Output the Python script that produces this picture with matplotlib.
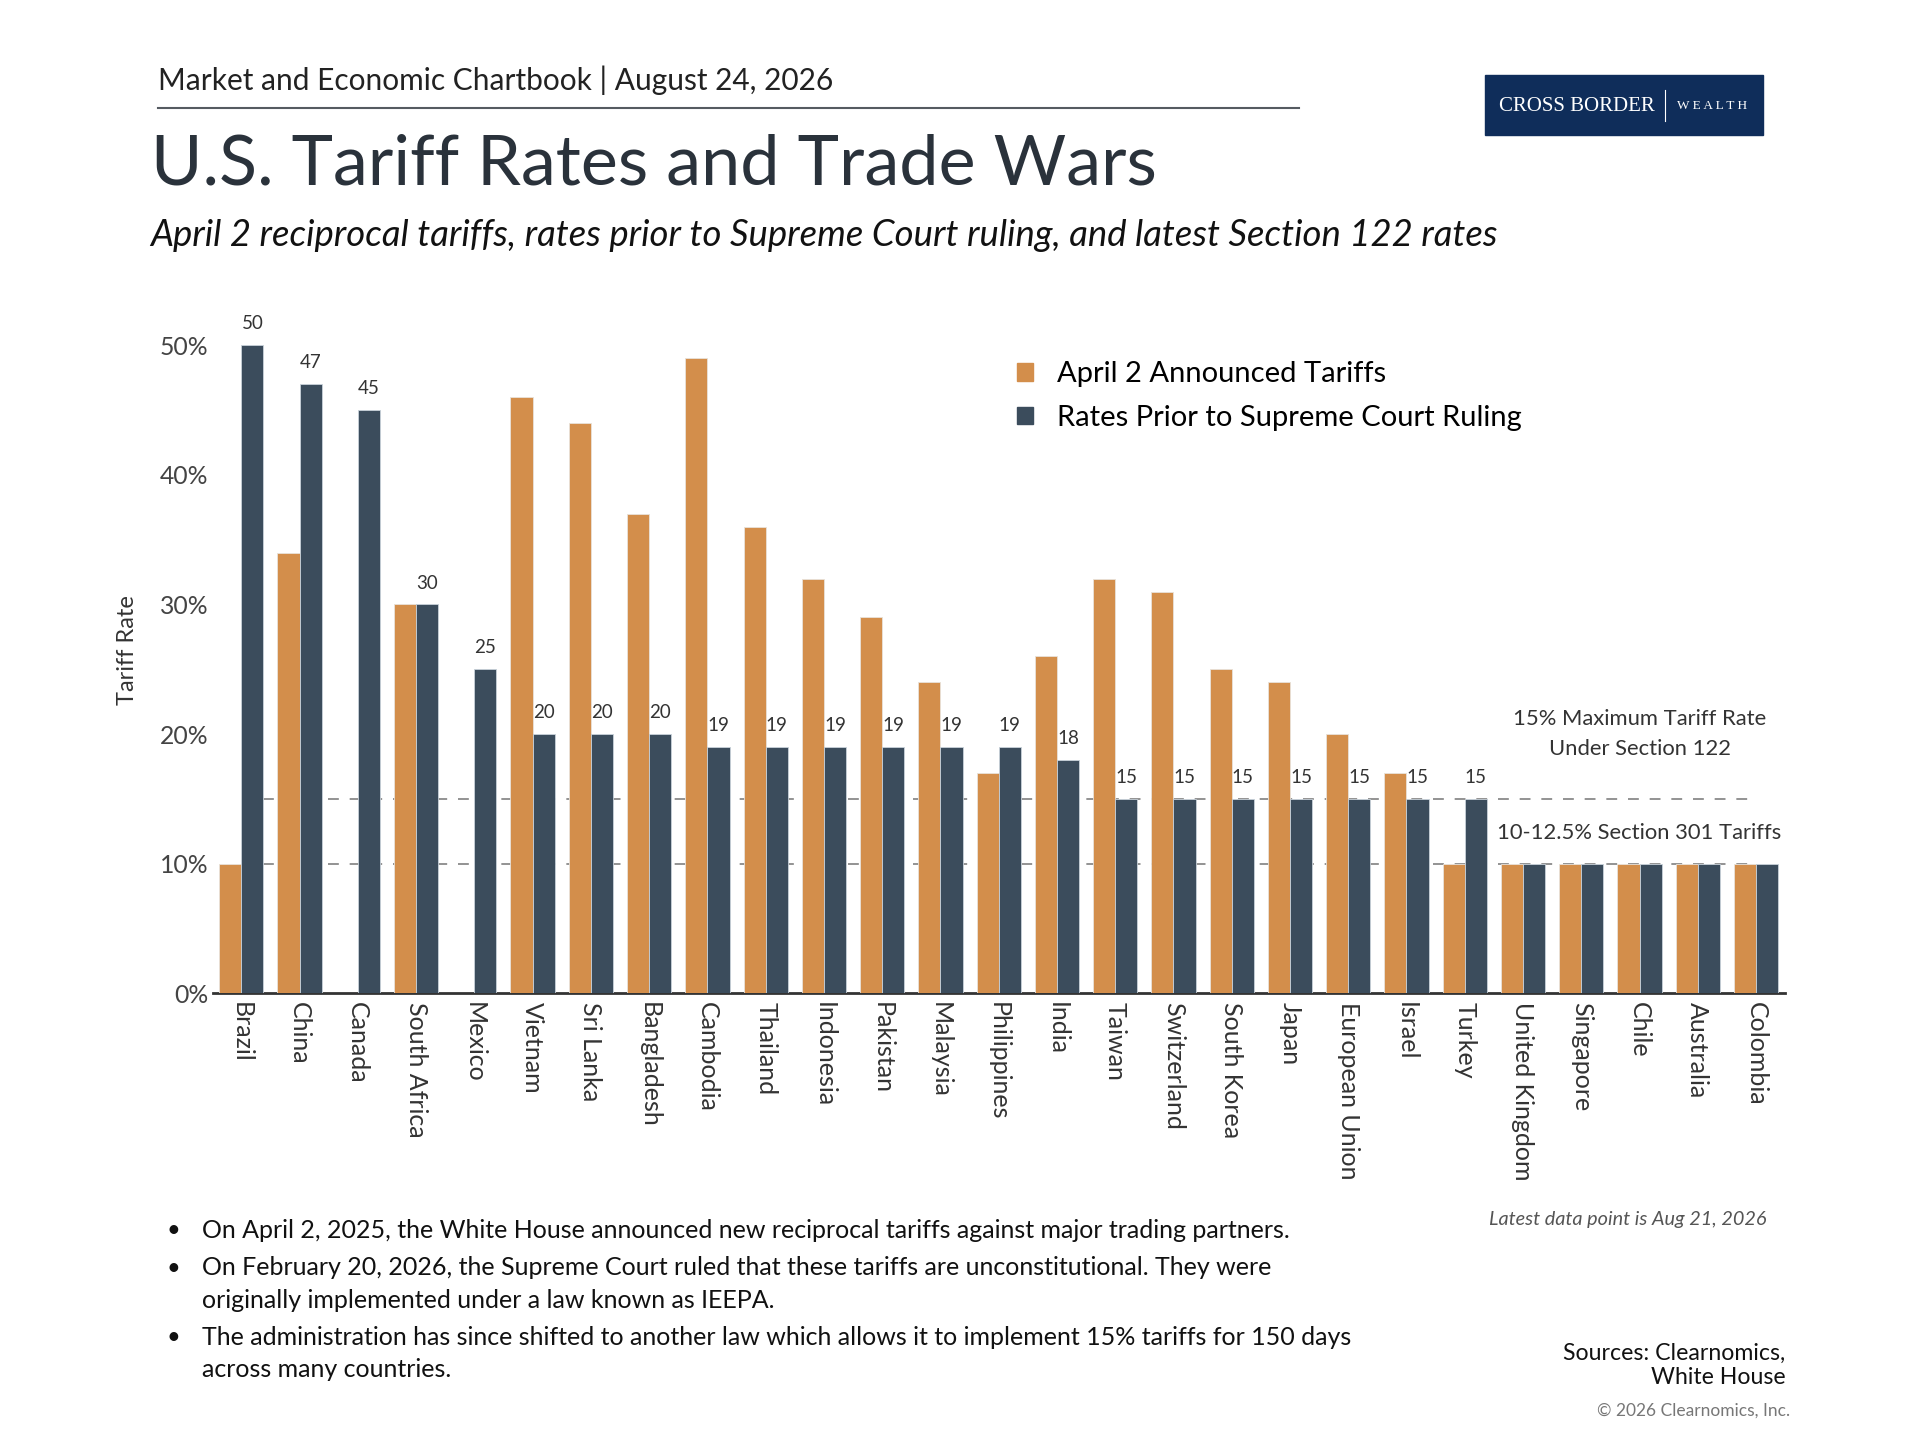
import matplotlib
matplotlib.use('Agg')
import matplotlib.pyplot as plt
from matplotlib.patches import Rectangle, Patch

plt.rcParams['font.family'] = ['Lato', 'DejaVu Sans']

countries = ['Brazil', 'China', 'Canada', 'South Africa', 'Mexico', 'Vietnam', 'Sri Lanka',
             'Bangladesh', 'Cambodia', 'Thailand', 'Indonesia', 'Pakistan', 'Malaysia',
             'Philippines', 'India', 'Taiwan', 'Switzerland', 'South Korea', 'Japan',
             'European Union', 'Israel', 'Turkey', 'United Kingdom', 'Singapore', 'Chile',
             'Australia', 'Colombia']
april2 = [10, 34, 0, 30, 0, 46, 44, 37, 49, 36, 32, 29, 24, 17, 26, 32, 31, 25, 24, 20,
          17, 10, 10, 10, 10, 10, 10]
prior_ruling = [50, 47, 45, 30, 25, 20, 20, 20, 19, 19, 19, 19, 19, 19, 18, 15, 15, 15, 15,
                15, 15, 15, 10, 10, 10, 10, 10]
n_labeled = 22  # value labels shown for Brazil..Turkey

yticks = [0, 10, 20, 30, 40, 50]
section122 = 15
section301 = 10

ORANGE = '#D38E4B'
DARK = '#3B4C5C'
TXT = '#333333'

W, H = 1552.0, 1164.0  # reference coordinates (scaled view)


def fx(x):
    return x / W


def fy(y):
    return 1 - y / H


fig = plt.figure(figsize=(19.2, 14.4), dpi=100)

# header
fig.text(fx(128), fy(65), 'Market and Economic Chartbook | August 24, 2026', fontsize=21.5,
         color='#222222', va='center', ha='left')
fig.add_artist(plt.Line2D([fx(128), fx(1050)], [fy(87), fy(87)], color='#555b61', lw=1.5))
fig.text(fx(122), fy(133), 'U.S. Tariff Rates and Trade Wars', fontsize=50.5, color='#2a323b',
         va='center', ha='left')
fig.text(fx(121), fy(190), 'April 2 reciprocal tariffs, rates prior to Supreme Court ruling, '
         'and latest Section 122 rates', fontsize=26.3, style='italic', color='#111111',
         va='center', ha='left')

# logo
fig.add_artist(Rectangle((fx(1200), fy(109)), fx(1425) - fx(1200), fy(61) - fy(109),
                         transform=fig.transFigure, color='#0f2d5a'))
fig.text(fx(1275), fy(86), 'CROSS BORDER', fontsize=15, family='Liberation Serif',
         color='white', va='center', ha='center')
fig.add_artist(plt.Line2D([fx(1346), fx(1346)], [fy(73), fy(98)], color='white', lw=0.8))
fig.text(fx(1384), fy(86), 'W E A L T H', fontsize=9.5, family='Liberation Serif',
         color='white', va='center', ha='center')

# chart
ax = fig.add_axes([fx(172), fy(803), fx(1443) - fx(172), fy(247.6) - fy(803)])
x = list(range(len(countries)))
bw = 0.38
ax.bar([i - bw / 2 for i in x], april2, width=bw, color=ORANGE, edgecolor='#e8e2da',
       linewidth=0.6, label='April 2 Announced Tariffs', zorder=3)
bars = ax.bar([i + bw / 2 for i in x], prior_ruling, width=bw, color=DARK, edgecolor='#c9d2da',
              linewidth=0.6, label='Rates Prior to Supreme Court Ruling', zorder=3)
for i in range(n_labeled):
    ax.text(i + bw / 2, prior_ruling[i] + 1.0, str(prior_ruling[i]), ha='center', va='bottom',
            fontsize=13.5, color=TXT, zorder=4)

ax.hlines(section122, bw, len(countries) - 1, colors='#8a8a8a', linestyles=(0, (6, 6)),
          lw=1.3, zorder=2)
ax.hlines(section301, bw, len(countries) - 1, colors='#8a8a8a', linestyles=(0, (6, 6)),
          lw=1.3, zorder=2)
ax.text(24.0, 20.0, '15% Maximum Tariff Rate\nUnder Section 122', ha='center', va='center',
        fontsize=15.8, color=TXT, linespacing=1.6)
ax.text(24.0, 12.4, '10-12.5% Section 301 Tariffs', ha='center', va='center', fontsize=15.8,
        color=TXT)

ax.set_xlim(-0.49, 26.5)
ax.set_ylim(0, 53)
ax.set_yticks(yticks)
ax.set_yticklabels([f'{t}%' for t in yticks], fontsize=17.8, color='#444444')
ax.set_xticks(x)
ax.set_xticklabels(countries, rotation=270, fontsize=18, color=TXT, va='top', ha='center')
ax.tick_params(axis='both', length=0, pad=3)
ax.tick_params(axis='x', pad=6)
for s in ['top', 'right', 'left']:
    ax.spines[s].set_visible(False)
ax.spines['bottom'].set_color('#333333')
ax.spines['bottom'].set_linewidth(2)
ax.set_ylabel('Tariff Rate', fontsize=17, color=TXT, labelpad=16)

ax.legend(handles=[Patch(color=ORANGE, label='April 2 Announced Tariffs'),
                   Patch(color=DARK, label='Rates Prior to Supreme Court Ruling')],
          loc='upper left', bbox_to_anchor=(0.495, 0.958),
          frameon=False, fontsize=21, handlelength=0.55, handleheight=0.55,
          handletextpad=0.8, labelspacing=0.6)

# notes
fig.text(fx(1428), fy(986), 'Latest data point is Aug 21, 2026', fontsize=14.3, style='italic',
         color='#555555', ha='right', va='center')
bullets = [
    (995, 'On April 2, 2025, the White House announced new reciprocal tariffs against major trading partners.'),
    (1038, 'On February 20, 2026, the Supreme Court ruled that these tariffs are unconstitutional. They were\n'
           'originally implemented under a law known as IEEPA.'),
    (1094, 'The administration has since shifted to another law which allows it to implement 15% tariffs for 150 days\n'
           'across many countries.'),
]
for yy, txt in bullets:
    nlines = txt.count('\n') + 1
    top = yy - (nlines - 1) * 13
    fig.text(fx(140), fy(top), '\u2022', fontsize=17, color='#111111', ha='center', va='center')
    fig.text(fx(163), fy(yy), txt, fontsize=18, color='#111111', ha='left', va='center',
             linespacing=1.5)

fig.text(fx(1443), fy(1104), 'Sources: Clearnomics,\nWhite House', fontsize=16.7,
         color='#111111', ha='right', va='center', linespacing=1.2)
fig.text(fx(1447), fy(1140), '\u00a9 2026 Clearnomics, Inc.', fontsize=12.5, color='#777777',
         ha='right', va='center')

fig.savefig('out.png', dpi=100, facecolor='white')
